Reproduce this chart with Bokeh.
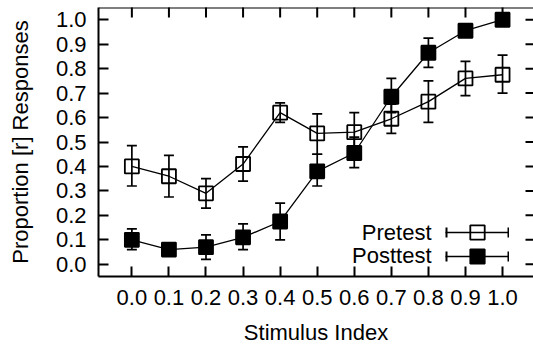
import math
from bokeh.plotting import figure
from bokeh.models import (LinearAxis, FixedTicker, PrintfTickFormatter, Range1d, Span, Label,
                          Whisker, ColumnDataSource, Legend, LegendItem, TeeHead)
from bokeh.embed import file_html
from bokeh.resources import INLINE

# ---- data ----
stimulus = [0.0, 0.1, 0.2, 0.3, 0.4, 0.5, 0.6, 0.7, 0.8, 0.9, 1.0]
x_tick_labels = ["0.0", "0.1", "0.2", "0.3", "0.4", "0.5", "0.6", "0.7", "0.8", "0.9", "1.0"]
y_ticks = [0.0, 0.1, 0.2, 0.3, 0.4, 0.5, 0.6, 0.7, 0.8, 0.9, 1.0]
y_tick_labels = ["0.0", "0.1", "0.2", "0.3", "0.4", "0.5", "0.6", "0.7", "0.8", "0.9", "1.0"]

pre_mean = [0.40, 0.36, 0.29, 0.41, 0.62, 0.535, 0.54, 0.595, 0.665, 0.76, 0.775]
pre_lower = [0.32, 0.275, 0.23, 0.34, 0.58, 0.45, 0.46, 0.535, 0.58, 0.69, 0.70]
pre_upper = [0.485, 0.445, 0.35, 0.48, 0.66, 0.615, 0.62, 0.655, 0.75, 0.83, 0.855]

post_mean = [0.10, 0.06, 0.07, 0.11, 0.175, 0.38, 0.455, 0.685, 0.865, 0.955, 1.0]
post_lower = [0.06, 0.04, 0.02, 0.06, 0.10, 0.32, 0.395, 0.62, 0.805, 0.935, 0.99]
post_upper = [0.145, 0.08, 0.12, 0.165, 0.25, 0.45, 0.52, 0.76, 0.925, 0.975, 1.0]

series_names = ["Pretest", "Posttest"]
x_title = "Stimulus Index"
y_title = "Proportion [r] Responses"

FONT = "Liberation Sans"
FS = "22px"

X_START, X_END = -0.09, 1.0835
Y_START, Y_END = -0.05, 1.05

p = figure(width=533, height=347, output_backend="svg", toolbar_location=None,
           x_range=Range1d(X_START, X_END), y_range=Range1d(Y_START, Y_END),
           min_border_left=98, min_border_right=0, min_border_top=7, min_border_bottom=71,
           x_axis_location=None, y_axis_location=None)
for g in p.grid:
    g.visible = False
p.outline_line_color = None
p.background_fill_color = "white"
p.border_fill_color = "white"


def make_axis(ticks, labels, title):
    ax = LinearAxis(ticker=FixedTicker(ticks=ticks),
                    formatter=PrintfTickFormatter(format="%.1f"))
    ax.major_label_overrides = {t: l for t, l in zip(ticks, labels)}
    ax.major_tick_in = 10
    ax.major_tick_out = 0
    ax.minor_tick_line_color = None
    ax.axis_line_width = 2
    ax.axis_line_color = "black"
    ax.major_tick_line_width = 2
    ax.major_tick_line_color = "black"
    ax.major_label_text_font = FONT
    ax.major_label_text_font_size = FS
    ax.major_label_text_color = "black"
    ax.axis_label = title
    ax.axis_label_text_font = FONT
    ax.axis_label_text_font_size = FS
    ax.axis_label_text_font_style = "normal"
    ax.axis_label_text_color = "black"
    return ax


xb = make_axis(stimulus, x_tick_labels, x_title)
xb.major_label_standoff = 13
xb.axis_label_standoff = 12
p.add_layout(xb, "below")

yl = make_axis(y_ticks, y_tick_labels, y_title)
yl.major_label_standoff = 12
yl.axis_label_standoff = 20
p.add_layout(yl, "left")

# top border and mirrored ticks (top and right), pointing inward
p.add_layout(Span(location=Y_END, dimension="width", line_color="black", line_width=2))
p.scatter(stimulus, [Y_END] * len(stimulus), marker="dash", angle=math.pi / 2, size=20,
          line_color="black", line_width=2)
p.scatter([X_END] * len(y_ticks), y_ticks, marker="dash", size=16,
          line_color="black", line_width=2)

pre_src = ColumnDataSource(dict(x=stimulus, y=pre_mean, lo=pre_lower, hi=pre_upper))
post_src = ColumnDataSource(dict(x=stimulus, y=post_mean, lo=post_lower, hi=post_upper))

LW = 1.3
EW = 1.7

renderers = []
for src, filled in ((pre_src, False), (post_src, True)):
    ln = p.line("x", "y", source=src, line_color="black", line_width=LW)
    wh = Whisker(base="x", lower="lo", upper="hi", source=src, line_color="black",
                 line_width=EW,
                 lower_head=TeeHead(size=10, line_width=EW, line_color="black"),
                 upper_head=TeeHead(size=10, line_width=EW, line_color="black"))
    p.add_layout(wh)
    # legend-only error-bar end caps (no drawable data)
    cap = p.line(x=[float("nan")], y=[float("nan")], line_color="black", line_width=10,
                 line_dash="2 60 2 100")
    pts = p.scatter("x", "y", source=src, marker="square", size=14,
                    fill_color="black" if filled else None,
                    line_color="black", line_width=1.8)
    renderers.append([ln, cap, pts])

# key: sample on the right, right-aligned text on the left (gnuplot style)
legend_y = [26, 2]
label_y = [43.7, 21.3]
for i in range(2):
    lg = Legend(items=[LegendItem(label="", renderers=renderers[i])],
                location=(347, legend_y[i]), orientation="vertical",
                glyph_width=64, glyph_height=36, padding=0, margin=0,
                label_standoff=0, label_width=0,
                border_line_color=None, background_fill_alpha=0)
    p.add_layout(lg)
    p.add_layout(Label(x=333, y=label_y[i], x_units="screen", y_units="screen",
                       text=series_names[i], text_align="right", text_baseline="alphabetic",
                       text_font=FONT, text_font_size=FS, text_color="black"))

open("out.html", "w").write(file_html(p, INLINE))
